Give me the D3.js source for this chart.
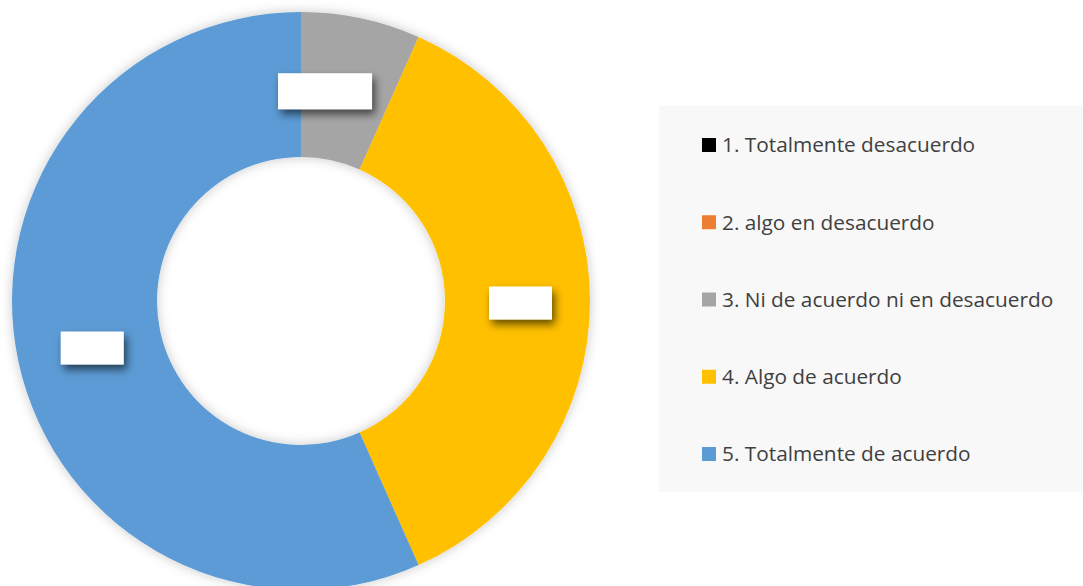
<!DOCTYPE html>
<html>
<head>
<meta charset="utf-8">
<script src="https://cdn.jsdelivr.net/npm/d3@7"></script>
<style>
  html, body { margin: 0; padding: 0; background: #ffffff; }
  svg { display: block; }
</style>
</head>
<body>
<div id="chart-wrapper"></div>
<script>
// data
var categories = ["1. Totalmente desacuerdo", "2. algo en desacuerdo", "3. Ni de acuerdo ni en desacuerdo", "4. Algo de acuerdo", "5. Totalmente de acuerdo"];
var values = [0, 0, 2, 11, 17];
var colors = ["#000000", "#ed7d31", "#a5a5a5", "#ffc000", "#5b9bd5"];

var width = 1083, height = 586;
var cx = 301, cy = 301, outerR = 289, innerR = 144;

var svg = d3.select("#chart-wrapper")
  .append("svg")
    .attr("width", width)
    .attr("height", height);

var defs = svg.append("defs");

// soft shadow round the ring
var ringShadow = defs.append("filter")
    .attr("id", "ringShadow")
    .attr("x", "-10%").attr("y", "-10%")
    .attr("width", "120%").attr("height", "120%");
ringShadow.append("feDropShadow")
    .attr("dx", 0).attr("dy", 0)
    .attr("stdDeviation", 6)
    .attr("flood-color", "#000")
    .attr("flood-opacity", 0.22);

// shadow under the label boxes
var boxShadow = defs.append("filter")
    .attr("id", "boxShadow")
    .attr("x", "-30%").attr("y", "-40%")
    .attr("width", "170%").attr("height", "200%");
boxShadow.append("feDropShadow")
    .attr("dx", 3).attr("dy", 5)
    .attr("stdDeviation", 4)
    .attr("flood-color", "#000")
    .attr("flood-opacity", 0.6);

var pie = d3.pie().sort(null).value(d => d);
var arcs = pie(values);

var arc = d3.arc().innerRadius(innerR).outerRadius(outerR);
var labelArc = d3.arc().innerRadius(innerR).outerRadius(outerR);

var g = svg.append("g")
    .attr("transform", `translate(${cx},${cy})`);

g.append("g")
    .attr("filter", "url(#ringShadow)")
  .selectAll("path")
  .data(arcs)
  .enter()
  .append("path")
    .attr("d", arc)
    .attr("fill", (d, i) => colors[i]);

// data labels (white boxes)
var shown = arcs.filter(d => d.value > 0);
g.selectAll("rect.lbl")
  .data(shown)
  .enter()
  .append("rect")
    .attr("class", "lbl")
    .attr("width", d => d.index === 2 ? 94 : 63)
    .attr("height", d => d.index === 2 ? 36 : 33)
    .attr("x", d => {
      var c = labelArc.centroid(d);
      var w = d.index === 2 ? 94 : 63;
      return c[0] - w / 2 + (d.index === 2 ? -21 : 3);
    })
    .attr("y", d => {
      var c = labelArc.centroid(d);
      var h = d.index === 2 ? 36 : 33;
      return c[1] - h / 2 + 2;
    })
    .attr("fill", "#ffffff")
    .attr("filter", "url(#boxShadow)");

// legend
var legend = svg.append("g");
legend.append("rect")
    .attr("x", 659).attr("y", 106)
    .attr("width", 424).attr("height", 386)
    .attr("fill", "#f8f8f8");

var ly = d3.scalePoint()
    .domain(categories)
    .range([145, 454]);

var item = legend.selectAll("g.item")
  .data(categories)
  .enter()
  .append("g")
    .attr("class", "item")
    .attr("transform", d => `translate(702,${ly(d)})`);

item.append("rect")
    .attr("x", 0).attr("y", -7)
    .attr("width", 14).attr("height", 14)
    .attr("fill", (d, i) => colors[i]);

item.append("text")
    .attr("x", 20)
    .attr("y", 0)
    .attr("dy", "0.35em")
    .attr("font-family", "'Open Sans', sans-serif")
    .attr("font-size", 20.8)
    .attr("fill", "#404040")
    .text(d => d);
</script>
</body>
</html>
